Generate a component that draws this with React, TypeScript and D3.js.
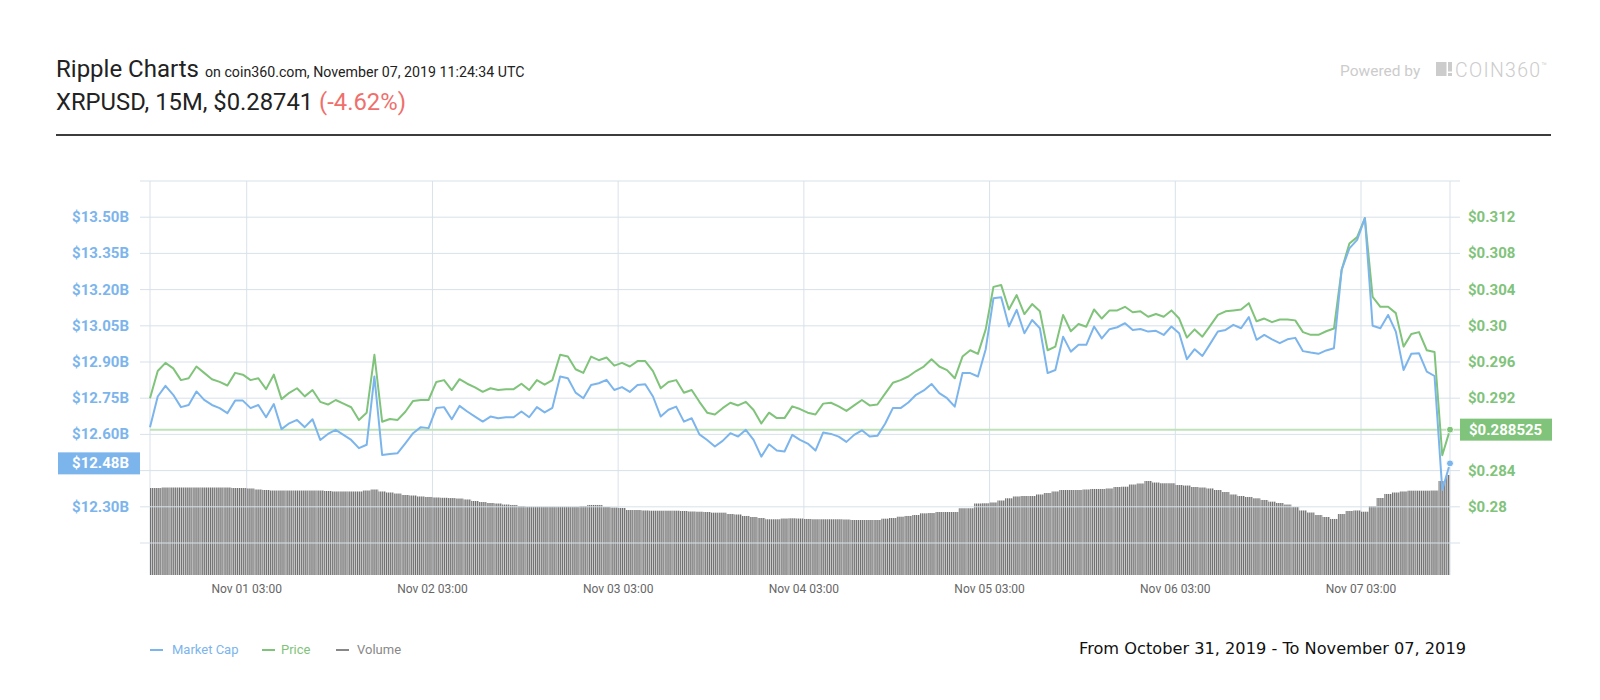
import React from "react";
import * as d3 from "d3";

// hourly samples, Oct 31 14:30 -> Nov 07 14:30 (chart local time)
const startTime = Date.UTC(2019, 9, 31, 14, 30);
const HOUR = 3600 * 1000;

// market cap, $B
const marketCap = [
  12.630, 12.757, 12.801, 12.764, 12.713, 12.722, 12.778, 12.743, 12.722, 12.709,
  12.688, 12.740, 12.740, 12.709, 12.722, 12.671, 12.726, 12.622, 12.646, 12.660,
  12.630, 12.663, 12.577, 12.602, 12.619, 12.598, 12.577, 12.543, 12.557, 12.840,
  12.515, 12.519, 12.522, 12.563, 12.605, 12.630, 12.626, 12.709, 12.713, 12.663,
  12.718, 12.695, 12.674, 12.653, 12.674, 12.667, 12.671, 12.671, 12.695, 12.671,
  12.713, 12.691, 12.710, 12.840, 12.833, 12.773, 12.750, 12.805, 12.812, 12.826,
  12.784, 12.796, 12.776, 12.805, 12.808, 12.757, 12.674, 12.702, 12.715, 12.653,
  12.667, 12.600, 12.577, 12.550, 12.573, 12.605, 12.591, 12.619, 12.577, 12.508,
  12.559, 12.533, 12.529, 12.598, 12.577, 12.562, 12.533, 12.608, 12.602, 12.591,
  12.569, 12.598, 12.617, 12.591, 12.594, 12.644, 12.709, 12.709, 12.732, 12.764,
  12.782, 12.809, 12.771, 12.750, 12.715, 12.854, 12.854, 12.840, 12.953, 13.164,
  13.168, 13.047, 13.116, 13.019, 13.074, 13.040, 12.854, 12.867, 13.005, 12.943,
  12.971, 12.971, 13.047, 12.998, 13.036, 13.044, 13.061, 13.033, 13.037, 13.026,
  13.029, 13.012, 13.047, 13.019, 12.912, 12.953, 12.925, 12.975, 13.026, 13.033,
  13.054, 13.040, 13.086, 12.992, 13.012, 12.994, 12.978, 12.994, 13.000, 12.945,
  12.939, 12.934, 12.948, 12.957, 13.282, 13.371, 13.406, 13.496, 13.050, 13.040,
  13.095, 13.026, 12.867, 12.934, 12.936, 12.860, 12.842, 12.370, 12.480,
];

// price, USD
const price = [
  0.2920, 0.2950, 0.2959, 0.2953, 0.2940, 0.2942, 0.2955, 0.2948, 0.2941, 0.2938,
  0.2934, 0.2948, 0.2946, 0.2940, 0.2942, 0.2930, 0.2946, 0.2919, 0.2926, 0.2931,
  0.2922, 0.2929, 0.2916, 0.2913, 0.2918, 0.2914, 0.2910, 0.2896, 0.2904, 0.2968,
  0.2894, 0.2897, 0.2896, 0.2905, 0.2917, 0.2918, 0.2918, 0.2938, 0.2940, 0.2929,
  0.2941, 0.2936, 0.2932, 0.2927, 0.2931, 0.2929, 0.2930, 0.2930, 0.2936, 0.2929,
  0.2940, 0.2935, 0.2940, 0.2968, 0.2966, 0.2952, 0.2948, 0.2966, 0.2962, 0.2965,
  0.2956, 0.2959, 0.2955, 0.2961, 0.2961, 0.2950, 0.2931, 0.2938, 0.2940, 0.2926,
  0.2929, 0.2916, 0.2904, 0.2902, 0.2909, 0.2915, 0.2912, 0.2916, 0.2907, 0.2892,
  0.2904, 0.2898, 0.2898, 0.2911, 0.2908, 0.2904, 0.2902, 0.2914, 0.2915, 0.2911,
  0.2906, 0.2912, 0.2918, 0.2912, 0.2913, 0.2925, 0.2937, 0.2940, 0.2944, 0.2950,
  0.2955, 0.2963, 0.2955, 0.2951, 0.2942, 0.2966, 0.2973, 0.2969, 0.2996, 0.3043,
  0.3045, 0.3018, 0.3034, 0.3013, 0.3024, 0.3016, 0.2973, 0.2977, 0.3012, 0.2994,
  0.3002, 0.2999, 0.3018, 0.3008, 0.3017, 0.3017, 0.3021, 0.3015, 0.3016, 0.3010,
  0.3013, 0.3010, 0.3017, 0.3008, 0.2987, 0.2996, 0.2988, 0.3000, 0.3012, 0.3016,
  0.3017, 0.3018, 0.3025, 0.3005, 0.3008, 0.3004, 0.3007, 0.3007, 0.3006, 0.2993,
  0.2990, 0.2990, 0.2994, 0.2997, 0.3062, 0.3091, 0.3098, 0.3119, 0.3032, 0.3021,
  0.3021, 0.3014, 0.2977, 0.2991, 0.2993, 0.2973, 0.2971, 0.2857, 0.288525,
];

// 24h volume, $B (hidden axis)
const volume = [
  1.186, 1.186, 1.193, 1.193, 1.193, 1.193, 1.193, 1.193, 1.193, 1.193,
  1.193, 1.186, 1.186, 1.180, 1.166, 1.159, 1.152, 1.152, 1.152, 1.152,
  1.152, 1.152, 1.152, 1.146, 1.139, 1.139, 1.139, 1.139, 1.152, 1.166,
  1.139, 1.125, 1.111, 1.091, 1.084, 1.071, 1.064, 1.057, 1.053, 1.049,
  1.043, 1.030, 1.009, 0.995, 0.982, 0.975, 0.961, 0.955, 0.941, 0.931,
  0.931, 0.931, 0.931, 0.931, 0.931, 0.931, 0.941, 0.955, 0.955, 0.927,
  0.920, 0.914, 0.886, 0.886, 0.880, 0.877, 0.877, 0.877, 0.877, 0.873,
  0.866, 0.863, 0.859, 0.850, 0.850, 0.832, 0.825, 0.805, 0.791, 0.777,
  0.760, 0.760, 0.770, 0.773, 0.770, 0.764, 0.760, 0.760, 0.760, 0.760,
  0.757, 0.750, 0.750, 0.750, 0.750, 0.768, 0.777, 0.795, 0.805, 0.818,
  0.841, 0.845, 0.859, 0.859, 0.859, 0.910, 0.910, 0.975, 0.978, 0.989,
  1.016, 1.046, 1.071, 1.077, 1.077, 1.098, 1.118, 1.139, 1.159, 1.159,
  1.159, 1.166, 1.173, 1.173, 1.180, 1.200, 1.204, 1.234, 1.248, 1.282,
  1.261, 1.251, 1.251, 1.227, 1.220, 1.200, 1.193, 1.180, 1.159, 1.132,
  1.098, 1.077, 1.064, 1.046, 1.023, 1.000, 0.982, 0.961, 0.927, 0.880,
  0.852, 0.818, 0.791, 0.764, 0.832, 0.873, 0.880, 0.863, 0.941, 1.050,
  1.105, 1.125, 1.139, 1.150, 1.150, 1.150, 1.152, 1.282, 1.364,
];

const mcTicks = [12.15, 12.3, 12.45, 12.6, 12.75, 12.9, 13.05, 13.2, 13.35, 13.5, 13.65];
const mcTickLabels = ["", "$12.30B", "$12.45B", "$12.60B", "$12.75B", "$12.90B", "$13.05B", "$13.20B", "$13.35B", "$13.50B", ""];
const priceTicks = [0.276, 0.28, 0.284, 0.288, 0.292, 0.296, 0.3, 0.304, 0.308, 0.312, 0.316];
const priceTickLabels = ["", "$0.28", "$0.284", "$0.288", "$0.292", "$0.296", "$0.30", "$0.304", "$0.308", "$0.312", ""];
const xTickDays = [1, 2, 3, 4, 5, 6, 7];

const lastMarketCap = 12.48;
const lastPrice = 0.288525;

const BLUE = "#7cb5ec";
const GREEN = "#80c37a";
const GRID = "#d8e1ea";
const FONT = "Roboto, sans-serif";

const plot = { left: 150, right: 1450, top: 181, bottom: 575 };

export default function App() {
  const times = price.map((_, i) => new Date(startTime + i * HOUR));
  const x = d3.scaleUtc().domain([times[0], times[times.length - 1]]).range([plot.left, plot.right]);
  const yMC = d3.scaleLinear().domain([12.15, 13.65]).range([543, plot.top]);
  const yPrice = d3.scaleLinear().domain([0.276, 0.316]).range([543, plot.top]);
  const yVol = d3.scaleLinear().domain([0, 1.5]).range([plot.bottom, 465]);
  const step = x(times[1]) - x(times[0]);
  const fmt = d3.utcFormat("%b %d %H:%M");
  const xTicks = xTickDays.map((d) => new Date(Date.UTC(2019, 10, d, 3, 0)));

  const mcLine = d3.line<number>().x((_, i) => x(times[i])).y((d) => yMC(d));
  const priceLine = d3.line<number>().x((_, i) => x(times[i])).y((d) => yPrice(d));

  const mcBadgeY = yMC(lastMarketCap);
  const priceBadgeY = yPrice(lastPrice);

  return (
    <svg width={1600} height={700} style={{ position: "absolute", left: 0, top: 0, display: "block" }} fontFamily={FONT}>
      <defs>
        <clipPath id="plotClip">
          <rect x={plot.left} y={plot.top} width={plot.right - plot.left} height={plot.bottom - plot.top} />
        </clipPath>
        {/* 15-minute bar texture */}
        <pattern id="volStripes" patternUnits="userSpaceOnUse" width={step / 4} height={10} patternTransform={`translate(${plot.left},0)`}>
          <rect x={0} y={0} width={step / 4} height={10} fill="#e4e4e4" />
          <rect x={0} y={0} width={step / 8 + 0.2} height={10} fill="#6e6e6e" />
        </pattern>
      </defs>

      {/* header */}
      <text x={56} y={77} fontSize={24} fill="#222">Ripple Charts</text>
      <text x={205} y={77} fontSize={14.2} fill="#222">on coin360.com, November 07, 2019 11:24:34 UTC</text>
      <text x={56} y={110} fontSize={23.8} fill="#222">
        XRPUSD, 15M, $0.28741 <tspan fill="#ef6f6c">(-4.62%)</tspan>
      </text>
      <text x={1340} y={76} fontSize={15.5} fill="#cccccc">Powered by</text>
      <rect x={1436} y={62} width={10.5} height={14} fill="#cccccc" />
      <rect x={1448} y={62} width={4} height={9.5} fill="#cccccc" />
      <rect x={1448} y={73} width={4} height={3} fill="#cccccc" />
      <text x={1455} y={76.5} fontSize={19.5} fontWeight={300} letterSpacing={1.3} fill="#cccccc">
        COIN360<tspan fontSize={9} dy={-8} letterSpacing={0}>™</tspan>
      </text>
      <line x1={56} x2={1551} y1={135} y2={135} stroke="#3c3c3c" strokeWidth={2} />

      {/* vertical grid */}
      {[plot.left, ...xTicks.map((t) => x(t)), plot.right].map((gx, i) => (
        <line key={"vg" + i} x1={gx} x2={gx} y1={plot.top} y2={plot.bottom} stroke={GRID} strokeWidth={1} />
      ))}

      {/* volume bars */}
      <g clipPath="url(#plotClip)">
        {volume.map((v, i) => (
          <rect key={"b" + i} x={x(times[i]) - step / 2} y={yVol(v)} width={step} height={plot.bottom - yVol(v)} fill="url(#volStripes)" />
        ))}
      </g>

      {/* horizontal grid */}
      {mcTicks.map((t, i) => (
        <line key={"hg" + i} x1={140} x2={1460} y1={yMC(t)} y2={yMC(t)} stroke={GRID} strokeWidth={1} />
      ))}

      {/* left axis labels */}
      {mcTicks.map((t, i) =>
        mcTickLabels[i] && Math.abs(yMC(t) - mcBadgeY) > 18 ? (
          <text key={"ml" + i} x={129} y={yMC(t) + 5} textAnchor="end" fontSize={15} fontWeight={700} fill={BLUE}>
            {mcTickLabels[i]}
          </text>
        ) : null
      )}
      {/* right axis labels */}
      {priceTicks.map((t, i) =>
        priceTickLabels[i] && Math.abs(yPrice(t) - priceBadgeY) > 18 ? (
          <text key={"pl" + i} x={1468} y={yPrice(t) + 5} fontSize={15} fontWeight={700} fill={GREEN}>
            {priceTickLabels[i]}
          </text>
        ) : null
      )}

      {/* x axis labels */}
      {xTicks.map((t, i) => (
        <text key={"xl" + i} x={x(t)} y={593} textAnchor="middle" fontSize={12} fill="#666">
          {fmt(t)}
        </text>
      ))}

      {/* current price line */}
      <line x1={plot.left} x2={1460} y1={priceBadgeY} y2={priceBadgeY} stroke="#bfe2b9" strokeWidth={2} />

      {/* series */}
      <path d={priceLine(price) || ""} fill="none" stroke={GREEN} strokeWidth={2} strokeLinejoin="round" />
      <path d={mcLine(marketCap) || ""} fill="none" stroke={BLUE} strokeWidth={2} strokeLinejoin="round" />
      <circle cx={x(times[times.length - 1])} cy={priceBadgeY} r={3.5} fill={GREEN} stroke="#fff" strokeWidth={1} />
      <circle cx={x(times[times.length - 1])} cy={mcBadgeY} r={3.5} fill={BLUE} stroke="#fff" strokeWidth={1} />

      {/* last value badges */}
      <rect x={58} y={mcBadgeY - 11} width={82} height={22} fill={BLUE} />
      <text x={129} y={mcBadgeY + 5} textAnchor="end" fontSize={15} fontWeight={700} fill="#fff">
        ${lastMarketCap.toFixed(2)}B
      </text>
      <rect x={1460} y={priceBadgeY - 11} width={92} height={22} fill={GREEN} />
      <text x={1469} y={priceBadgeY + 5} fontSize={15} fontWeight={700} fill="#fff">
        ${lastPrice}
      </text>

      {/* legend */}
      <line x1={150} x2={163} y1={650} y2={650} stroke={BLUE} strokeWidth={2} />
      <text x={172} y={654} fontSize={13} fill={BLUE}>Market Cap</text>
      <line x1={262} x2={275} y1={650} y2={650} stroke={GREEN} strokeWidth={2} />
      <text x={281} y={654} fontSize={13} fill={GREEN}>Price</text>
      <line x1={336} x2={349} y1={650} y2={650} stroke="#888" strokeWidth={2} />
      <text x={357} y={654} fontSize={13} fill="#888">Volume</text>

      <text x={1079} y={654} fontSize={16.2} fontFamily="DejaVu Sans, sans-serif" fill="#111">
        From October 31, 2019 - To November 07, 2019
      </text>
    </svg>
  );
}
